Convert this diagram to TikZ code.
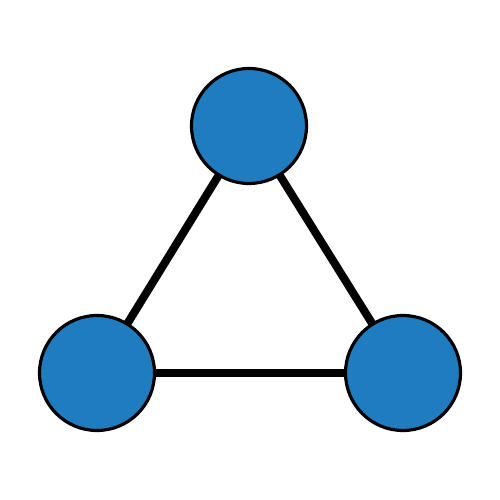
\documentclass[tikz,border=0pt]{standalone}
\usepackage{tikz}
\usetikzlibrary{positioning,backgrounds}

\definecolor{nodeblue}{RGB}{31,124,191}

\tikzset{
    vertex/.style={circle,draw=black,fill=nodeblue,line width=1.8pt,inner sep=0pt,minimum size=2.3cm},
    link/.style={draw=black,line width=4.6pt}
}

\begin{document}
\begin{tikzpicture}
            \useasboundingbox (0,0) rectangle (10,10);
            \node[vertex] (top) at (4.98,7.48) {};
            \node[vertex] (left) at (1.94,2.54) {};
            \node[vertex] (right) at (8.06,2.54) {};
            \begin{scope}[on background layer]
                \draw[link] (top.center) -- (left.center);
                \draw[link] (left.center) -- (right.center);
                \draw[link] (right.center) -- (top.center);
            \end{scope}
        \end{tikzpicture}
\end{document}
